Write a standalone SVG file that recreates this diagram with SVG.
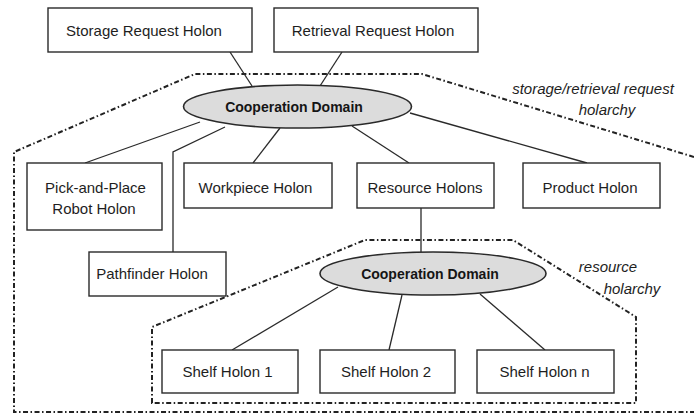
<svg xmlns="http://www.w3.org/2000/svg" width="694" height="414" viewBox="0 0 694 414">
<style>
.box{fill:#fff;stroke:#2a2a2a;stroke-width:1.4}
.t{font-family:"Liberation Sans",Arial,sans-serif;font-size:15px;fill:#1e1e1e;text-anchor:middle}
.it{font-family:"Liberation Sans",Arial,sans-serif;font-size:15px;font-style:italic;fill:#1e1e1e;text-anchor:middle}
.cd{font-family:"Liberation Sans",Arial,sans-serif;font-size:14px;font-weight:bold;fill:#151515;text-anchor:middle}
.ell{fill:#dcdcdc;stroke:#2a2a2a;stroke-width:1.6}
.ln{stroke:#2a2a2a;stroke-width:1.3;fill:none}
.bd{stroke:#222;stroke-width:2;fill:none;stroke-dasharray:5 2.5 1.5 2.5}
</style>
<rect width="694" height="414" fill="#fff"/>
<g id="boundaries">
<polyline class="bd" points="694,157 422,74 195,74 14,152 14,412 694,412"/>
<polygon class="bd" points="152,403 152,327 365,240 513,240 636,317 636,403"/>
</g>
<g id="connectors">
<line class="ln" x1="230" y1="52" x2="252" y2="86"/>
<line class="ln" x1="342" y1="52" x2="320" y2="86"/>
<line class="ln" x1="200" y1="122" x2="85" y2="163"/>
<polyline class="ln" points="225,127 173,152 173,252"/>
<line class="ln" x1="280" y1="128" x2="253" y2="163"/>
<line class="ln" x1="352" y1="126" x2="409" y2="163"/>
<line class="ln" x1="410" y1="113" x2="587" y2="163"/>
<line class="ln" x1="421" y1="208" x2="421" y2="252"/>
<line class="ln" x1="338" y1="287" x2="232" y2="350"/>
<line class="ln" x1="402" y1="295" x2="389" y2="350"/>
<line class="ln" x1="480" y1="294" x2="545" y2="350"/>
</g>
<g id="storage-request"><rect class="box" x="48" y="8" width="204" height="44"/><text class="t" x="144" y="36">Storage Request Holon</text></g>
<g id="retrieval-request"><rect class="box" x="274" y="8" width="204" height="44"/><text class="t" x="373" y="36">Retrieval Request Holon</text></g>
<g id="coop1"><ellipse class="ell" cx="297.5" cy="106.5" rx="114" ry="21.5"/><text class="cd" x="294" y="112">Cooperation Domain</text></g>
<g id="pick-place"><rect class="box" x="27" y="163" width="135" height="67"/><text class="t" x="95.5" y="193">Pick-and-Place</text><text class="t" x="94" y="214">Robot Holon</text></g>
<g id="workpiece"><rect class="box" x="184" y="163" width="148" height="45"/><text class="t" x="255.5" y="193">Workpiece Holon</text></g>
<g id="resource"><rect class="box" x="357" y="163" width="137" height="45"/><text class="t" x="425" y="193">Resource Holons</text></g>
<g id="product"><rect class="box" x="523" y="163" width="137" height="45"/><text class="t" x="590" y="193">Product Holon</text></g>
<g id="pathfinder"><rect class="box" x="89" y="252" width="137" height="44"/><text class="t" x="152" y="279">Pathfinder Holon</text></g>
<g id="coop2"><ellipse class="ell" cx="433" cy="273.5" rx="113" ry="21.5"/><text class="cd" x="430" y="279">Cooperation Domain</text></g>
<g id="shelf1"><rect class="box" x="162" y="350" width="136" height="43"/><text class="t" x="227.5" y="377">Shelf Holon 1</text></g>
<g id="shelf2"><rect class="box" x="320" y="350" width="135" height="43"/><text class="t" x="386" y="377">Shelf Holon 2</text></g>
<g id="shelfn"><rect class="box" x="477" y="350" width="137" height="43"/><text class="t" x="544.5" y="377">Shelf Holon n</text></g>
<g id="labels">
<text class="it" x="593" y="94">storage/retrieval request</text>
<text class="it" x="607" y="115">holarchy</text>
<text class="it" x="608" y="272">resource</text>
<text class="it" x="632" y="294">holarchy</text>
</g>
</svg>
